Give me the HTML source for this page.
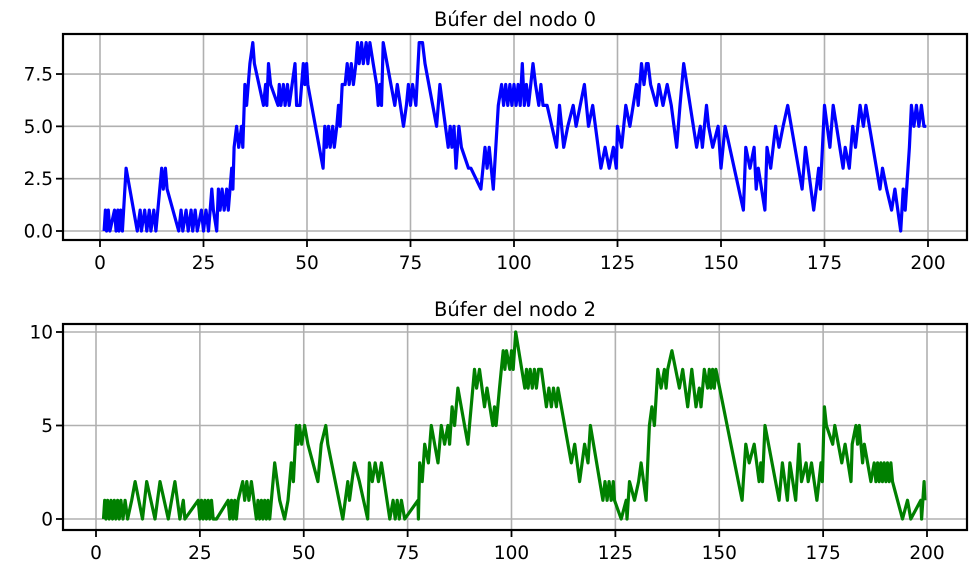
<!DOCTYPE html>
<html><head><meta charset="utf-8"><style>
html,body{margin:0;padding:0;background:#fff;}
svg{display:block;font-family:"DejaVu Sans","Liberation Sans",sans-serif;}
</style></head><body>
<svg id="fig" width="976" height="576" viewBox="0 0 976 576" xmlns="http://www.w3.org/2000/svg"></svg>
<script>
// Top chart data (node 0 buffer) - aligned in rows of 10
const topX = [
1,1.3,1.6,2,2.4,3.5,3.9,4.3,4.6,5,
5.4,6.3,9,9.7,10,10.8,11.3,11.9,12.3,13,
13.5,14.9,15.3,15.8,16.2,19,19.6,20,20.8,21.3,
22,22.4,23,23.5,24.5,25,25.6,26.2,27,27.4,
28.2,28.6,29,29.5,30,30.6,31,31.8,32.1,32.4,
33,33.5,34.2,34.5,35,35.4,36.2,36.9,37.3,39.5,
40,40.3,40.7,41.2,43,43.3,43.7,44.3,44.7,45.3,
45.7,47.1,47.5,48.3,49.1,49.5,49.9,50.2,53.9,54.3,
54.7,55.2,55.6,56.2,56.6,57.2,57.6,58,58.5,59.2,
59.7,60.2,60.7,61.2,61.8,62.2,62.6,63.2,63.6,64.3,
64.7,65.2,66,66.8,67.2,67.6,68,68.4,71.2,71.8,
73.3,74,74.5,75,75.5,76.3,77.1,77.9,78.5,81.3,
82.1,84.1,84.6,85,85.5,86,86.7,87.3,89,89.6,
92,93,93.5,94,95,96.2,97,97.5,98,98.5,
99,99.5,100,100.5,101,101.5,102,102.5,103,103.5,
104.6,105.2,106,106.5,107,108,110.3,111,112,113,
114.3,115,116,117,118,119,121,122,123,124,
124.7,125,126,127,128,129.6,130,130.8,131.4,132,
132.4,133,134.4,135,136,137,138,139.3,140.1,141,
144.1,145,145.5,146,146.5,147,148,149.3,150,151,
155.4,156,157,158,158.5,159,160.6,161.1,162,163.2,
164,165,166.1,169.6,170.4,172.4,173.6,174,175,176.3,
177.1,179.5,180,181,181.8,182.5,183.6,184.4,185,188.4,
189,190,191.2,192,193.4,194,194.5,195.5,196,196.6,
197.2,197.8,198.4,199,199.6];
const topY = [
0,1,0,1,0,1,0,1,0,1,
0,3,0,1,0,1,0,1,0,1,
0,3,2,3,2,0,1,0,1,0,
1,0,1,0,1,0,1,0,2,1,
0,2,1,2,1,2,1,3,2,4,
5,4,5,4,7,6,8,9,8,6,
7,6,8,7,6,7,6,7,6,7,
6,8,6,6,8,7,8,7,3,5,
4,5,4,5,4,5,6,5,7,7,
8,7,8,7,8,9,8,9,8,9,
8,9,8,7,6,7,6,9,6,7,
5,6,7,6,7,6,9,9,8,5,
7,4,5,4,5,3,5,4,3,3,
2,4,3,4,2,6,7,6,7,6,
7,6,7,6,7,6,8,6,7,6,
8,7,6,7,6,6,4,6,4,5,
6,5,6,7,5,6,3,4,3,4,
3,5,4,6,5,7,6,8,7,8,
8,7,6,7,6,7,6,4,6,8,
4,5,4,5,6,5,4,5,3,5,
1,4,3,4,2,3,1,4,3,5,
4,5,6,2,4,1,3,2,6,4,
6,3,4,3,5,4,6,5,6,2,
3,2,1,2,0,2,1,4,6,5,
6,5,6,5,5];
const topYTicks = [0,2.5,5,7.5];
const topYLabels = ["0.0","2.5","5.0","7.5"];
// Bottom chart data (node 2 buffer) - aligned in rows of 10
const botX = [
1.8,2.1,2.4,2.8,3.2,3.6,4,4.4,4.8,5.2,
5.6,6,6.5,7,7.6,8.6,9.4,11.2,12.2,14.2,
15.4,17.4,19,20.2,21,21.4,24.6,25,25.4,25.8,
26.2,26.6,27,27.4,27.8,28.2,29,31.8,32.2,32.6,
33,33.4,33.8,34.2,35.3,35.8,36.3,36.8,37.4,38.6,
39,39.4,39.8,40.2,40.6,41,41.4,41.8,43,44.2,
45.4,46.2,47,47.5,48.2,48.6,49,49.5,50.2,51,
53.4,54.2,55.3,55.8,59.4,60.6,61,62.2,63.4,65.4,
65.8,66.5,67.2,68,68.7,70.7,71.5,72,72.5,73,
73.5,74.3,77.5,77.6,77.9,78.5,79.1,80,80.7,82.3,
83.1,83.9,84.7,85.1,85.7,86.3,87.1,89.5,89.9,91.1,
91.6,92.3,93.5,94.1,95.5,95.9,96.3,96.7,97.1,98,
98.4,98.8,99.6,100,100.4,101,103.2,103.6,104,104.5,
105,105.5,106,106.5,107.2,108.4,109,109.6,110.1,110.8,
111.2,114.4,115.2,116.4,117.6,118.4,119,122,122.5,123,
123.5,124,124.5,124.8,126.4,127.6,127.8,128.4,129.6,130.6,
131.2,132.4,133.2,133.8,134.4,135.2,136,136.8,137.2,137.6,
138.6,140.4,141.2,142.4,143.4,144.4,145.2,145.6,146.4,147.2,
147.6,148,148.4,148.8,149.2,155.5,155.8,156.4,157.2,158.4,
159.6,160,160.4,161,164.4,165.2,166.4,167,168.4,169.2,
169.8,170.9,171.4,172.2,173.5,174.5,174.8,175.3,175.8,177.3,
177.8,179.5,180.3,181.7,182,182.9,183.3,183.7,184.5,184.9,
186.5,187.3,187.7,188.1,188.5,188.9,189.3,189.7,190.1,190.5,
190.9,191.3,191.7,194.1,195.3,196.1,198.5,198.7,199.3,199.5];
const botY = [
0,1,0,1,0,1,0,1,0,1,
0,1,0,1,0,1,2,0,2,0,
2,0,2,0,1,0,1,0,1,0,
1,0,1,0,1,0,0,1,0,1,
0,1,0,1,2,1,2,1,2,0,
1,0,1,0,1,0,1,0,3,1,
0,1,3,2,5,4,5,4,5,4,
2,4,5,4,0,2,1,3,2,0,
3,2,3,2,3,0,1,0,1,0,
1,0,1,0,3,2,4,3,5,3,
5,4,5,4,6,5,7,4,5,8,
7,8,6,7,5,6,5,6,7,9,
8,9,8,9,8,10,7,8,7,8,
7,8,7,8,8,6,7,6,7,6,
7,3,4,2,4,3,5,1,2,1,
2,1,2,1,0,1,0,2,1,2,
3,1,5,6,5,8,7,8,7,8,
9,7,8,6,8,6,7,6,8,7,
8,7,8,7,8,1,2,4,3,4,
2,3,2,5,1,3,1,3,1,4,
2,3,2,3,1,3,2,6,5,4,
5,3,4,2,4,5,4,5,3,4,
2,3,2,3,2,3,2,3,2,3,
2,3,2,0,1,0,1,0,2,1];
const botYTicks = [0,5,10];
const botYLabels = ["0","5","10"];
const xTicks = [0,25,50,75,100,125,150,175,200];

const NS = "http://www.w3.org/2000/svg";
const svg = document.getElementById('fig');
function mk(tag, attrs, parent){ const e=document.createElementNS(NS,tag); for(const k in attrs) e.setAttribute(k,attrs[k]); (parent||svg).appendChild(e); return e; }

function drawPanel(cfg){
  const g = mk('g',{});
  
  
  const L=63,R=967,T=cfg.top,B=cfg.top+206;
  const sx = v => cfg.x0 + v*cfg.xs;
  const sy = v => cfg.y0 - v*cfg.ys;
  xTicks.forEach(t=>{
    const l = mk('line',{x1:sx(t),x2:sx(t),y1:T,y2:B,stroke:'#b0b0b0','stroke-width':1.6},g);
    
    
  });
  cfg.yt.forEach(t=>{
    const l = mk('line',{x1:L,x2:R,y1:sy(t),y2:sy(t),stroke:'#b0b0b0','stroke-width':1.6},g);
    
    
  });
  const cp = mk('clipPath',{id:cfg.name+'-clip'},g);
  mk('rect',{x:L,y:T,width:R-L,height:B-T},cp);
  let d='';
  cfg.xs_data.forEach((x,i)=>{ d += (i?'L':'M') + sx(x).toFixed(1) + ',' + sy(cfg.ys_data[i]).toFixed(1); });
  const p = mk('path',{d:d,fill:'none',stroke:cfg.color,'stroke-width':3.2,'stroke-linejoin':'round','clip-path':'url(#'+cfg.name+'-clip)'},g);
  
  
  const sp = mk('rect',{x:L,y:T,width:R-L,height:B-T,fill:'none',stroke:'#000','stroke-width':2.2},g);
  
  
  xTicks.forEach(t=>{
    mk('line',{x1:sx(t),x2:sx(t),y1:B,y2:B+7,stroke:'#000','stroke-width':1.8},g);
    const tx = mk('text',{x:sx(t),y:B+29,'text-anchor':'middle','font-size':18.5,fill:'#000'},g);
    tx.textContent = t;
    
    
  });
  cfg.yt.forEach((t,i)=>{
    mk('line',{x1:L-7,x2:L,y1:sy(t),y2:sy(t),stroke:'#000','stroke-width':1.8},g);
    const tx = mk('text',{x:L-10,y:sy(t)+6.5,'text-anchor':'end','font-size':18.5,fill:'#000'},g);
    tx.textContent = cfg.yl[i];
    
    
  });
  const ti = mk('text',{x:515,y:T-8,'text-anchor':'middle','font-size':19.5,fill:'#000'},g);
  ti.textContent = cfg.title;
  
  
}
drawPanel({name:'node0-panel',lineName:'node0-buffer-line',top:34,x0:100,xs:4.14,y0:231,ys:20.93,yt:topYTicks,yl:topYLabels,xs_data:topX,ys_data:topY,color:'#0000ff',title:'Búfer del nodo 0'});
drawPanel({name:'node2-panel',lineName:'node2-buffer-line',top:324,x0:96,xs:4.155,y0:519,ys:18.7,yt:botYTicks,yl:botYLabels,xs_data:botX,ys_data:botY,color:'#008000',title:'Búfer del nodo 2'});
</script>
</body></html>
